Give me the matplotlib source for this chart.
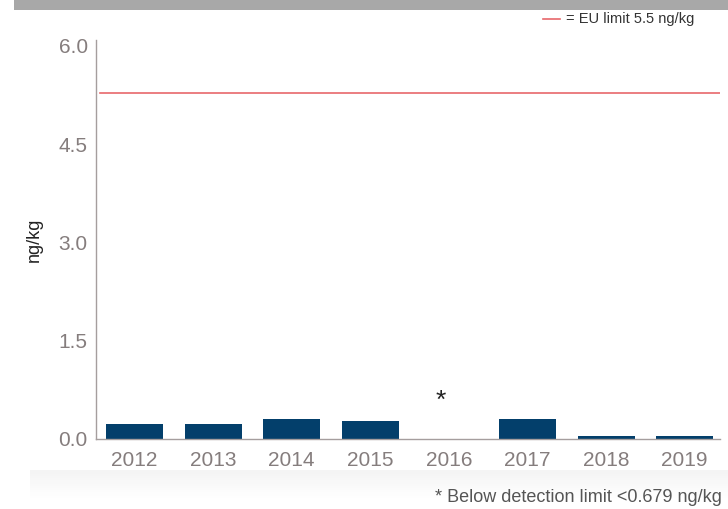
import numpy as np
import matplotlib.pyplot as plt
from matplotlib.patches import Rectangle

# values
years = ['2012', '2013', '2014', '2015', '2016', '2017', '2018', '2019']
values = [0.23, 0.23, 0.30, 0.28, 0.0, 0.30, 0.05, 0.04]
below_detection = [False, False, False, False, True, False, False, False]
eu_limit_line = 5.28
yticks = [0.0, 1.5, 3.0, 4.5, 6.0]

W, H = 728, 509
fig = plt.figure(figsize=(W / 100, H / 100), dpi=100)
fig.patch.set_facecolor('white')

# gray header band and soft shadow under the panel
fig.patches.append(Rectangle((14 / W, 1 - 10 / H), 1, 10 / H, transform=fig.transFigure,
                             facecolor='#a8a8a8', edgecolor='none'))
for i in range(14):
    a = 0.045 * (1 - i / 14)
    fig.patches.append(Rectangle((30 / W, (509 - 472 - i * 2) / H), (728 - 30) / W, 2 / H,
                                 transform=fig.transFigure, facecolor='black', alpha=a,
                                 edgecolor='none'))

font = ['Liberation Sans', 'DejaVu Sans']
tick_col = '#857d7d'

ax = fig.add_axes([96 / W, (509 - 439) / H, (720 - 96) / W, (439 - 40) / H])
x = np.arange(len(years))
ax.bar(x, values, width=0.725, color='#033f6b')
ax.axhline(eu_limit_line, xmin=0.006, xmax=1, color='#e8676b', lw=1.2)

for xi, flag in zip(x, below_detection):
    if flag:
        ax.text(xi - 0.1, 0.58, '*', ha='center', va='center', fontsize=19,
                color='#222222', family=font)

ax.set_xlim(-0.49, 7.45)
ax.set_ylim(0, 6.09)
ax.set_yticks(yticks)
ax.set_yticklabels(['%.1f' % v for v in yticks])
ax.set_xticks(x)
ax.set_xticklabels(years)
ax.tick_params(length=0, labelsize=15, labelcolor=tick_col)
ax.tick_params(axis='x', pad=9)
ax.tick_params(axis='y', pad=6)
for lab in ax.get_xticklabels() + ax.get_yticklabels():
    lab.set_family(font)

for s in ['top', 'right']:
    ax.spines[s].set_visible(False)
for s in ['left', 'bottom']:
    ax.spines[s].set_color('#a59e9e')
    ax.spines[s].set_linewidth(1.0)

ax.set_ylabel('ng/kg', fontsize=13, color='#222222', family=font)
ax.yaxis.set_label_coords(-0.085, 0.5)

# legend-like note for the red line
fig.add_artist(plt.Line2D([543 / W, 560 / W], [1 - 19 / H, 1 - 19 / H],
                          color='#e8676b', lw=1.2, transform=fig.transFigure))
fig.text(566 / W, 1 - 19 / H, '= EU limit 5.5 ng/kg', fontsize=10.5, color='#333333',
         family=font, va='center', ha='left')

fig.text(722 / W, 1 - 498 / H, '* Below detection limit <0.679 ng/kg', fontsize=13,
         color='#555555', family=font, ha='right', va='center')

fig.savefig('out.png', dpi=100)
